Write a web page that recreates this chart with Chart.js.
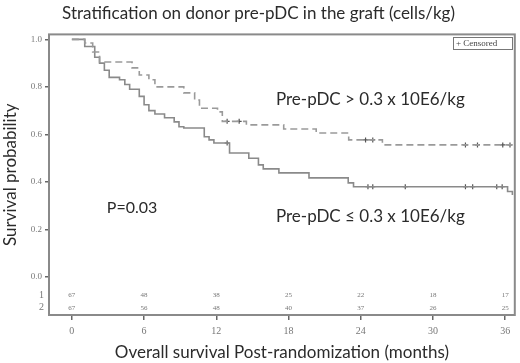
<!DOCTYPE html>
<html>
<head>
<meta charset="utf-8">
<script src="https://cdn.jsdelivr.net/npm/chart.js@4"></script>
<style>
  html, body { margin: 0; padding: 0; background: #fff; }
  #wrap { width: 520px; height: 363px; }
</style>
</head>
<body>
<div id="wrap"><canvas id="chartKM" width="520" height="363"></canvas></div>
<script>
// Curva discontinua: Pre-pDC > 0.3 x 10E6/kg
const mesesAlto = [0, 1.07, 1.73, 2.3, 5.0, 5.6, 6.4, 6.9, 9.3, 10.2, 10.6, 12.1, 12.5, 14.5, 17.6, 20.3, 23.0, 25.8, 36.6];
const survAlto  = [1.0, 0.985, 0.947, 0.905, 0.88, 0.85, 0.83, 0.80, 0.775, 0.745, 0.71, 0.695, 0.655, 0.64, 0.623, 0.606, 0.577, 0.556, 0.556];
const censMesesAlto = [12.9, 13.9, 24.4, 25.0, 32.7, 33.7, 35.8, 36.4];
const censSurvAlto  = [0.655, 0.655, 0.577, 0.577, 0.556, 0.556, 0.556, 0.556];

// Curva continua: Pre-pDC <= 0.3 x 10E6/kg
const mesesBajo = [0, 1.07, 1.9, 2.3, 2.7, 3.1, 3.96, 4.4, 4.8, 5.6, 6.0, 6.4, 6.9, 7.7, 8.5, 8.9, 9.3, 11.0, 11.4, 11.8, 13.1, 14.7, 15.5, 15.9, 17.2, 19.7, 22.96, 23.4, 36.2, 36.6];
const survBajo  = [1.0, 0.97, 0.925, 0.90, 0.87, 0.84, 0.83, 0.81, 0.79, 0.76, 0.725, 0.70, 0.686, 0.67, 0.653, 0.632, 0.627, 0.59, 0.577, 0.564, 0.522, 0.50, 0.472, 0.455, 0.438, 0.417, 0.396, 0.38, 0.36, 0.345];
const censMesesBajo = [12.9, 24.6, 25.0, 27.7, 32.7, 33.3, 35.3, 35.75];
const censSurvBajo  = [0.564, 0.38, 0.38, 0.38, 0.38, 0.38, 0.38, 0.38];

// Tabla de pacientes en riesgo
const mesesTabla = [0, 6, 12, 18, 24, 30, 36];
const enRiesgo1 = [67, 48, 38, 25, 22, 18, 17];
const enRiesgo2 = [67, 56, 48, 40, 37, 26, 25];

const ticksX = [0, 6, 12, 18, 24, 30, 36];
const ticksY = [0, 0.2, 0.4, 0.6, 0.8, 1.0];

const aPuntos = (xs, ys) => xs.map((x, i) => ({ x: x, y: ys[i] }));

// Plugin para marco, textos y tabla de riesgo
const extras = {
    id: 'extras',
    afterDraw(chart) {
        const ctx = chart.ctx;
        const a = chart.chartArea;
        const sx = chart.scales.x, sy = chart.scales.y;
        ctx.save();

        // marco
        ctx.strokeStyle = '#8a8a8a';
        ctx.lineWidth = 2;
        ctx.strokeRect(a.left, a.top, a.right - a.left, a.bottom - a.top);

        // anotaciones
        ctx.fillStyle = '#2b2b2b';
        ctx.font = '17px Lato';
        ctx.textAlign = 'center';
        ctx.textBaseline = 'middle';
        ctx.fillText('Pre-pDC > 0.3 x 10E6/kg', sx.getPixelForValue(24.8), sy.getPixelForValue(0.745));
        ctx.fillText('Pre-pDC \u2264 0.3 x 10E6/kg', sx.getPixelForValue(24.8), sy.getPixelForValue(0.253));
        ctx.font = '16px Lato';
        ctx.fillText('P=0.03', sx.getPixelForValue(5.0), sy.getPixelForValue(0.29));

        // tabla de riesgo
        ctx.fillStyle = '#777';
        ctx.font = '7px "Liberation Serif"';
        const y1 = sy.getPixelForValue(-0.076), y2 = sy.getPixelForValue(-0.13);
        mesesTabla.forEach((m, i) => {
            ctx.fillText(String(enRiesgo1[i]), sx.getPixelForValue(m), y1);
            ctx.fillText(String(enRiesgo2[i]), sx.getPixelForValue(m), y2);
        });
        ctx.font = '10px "Liberation Serif"';
        ctx.textAlign = 'right';
        ctx.fillText('1', a.left - 5, y1);
        ctx.fillText('2', a.left - 5, y2);

        // leyenda Censored
        ctx.strokeStyle = '#777';
        ctx.lineWidth = 1;
        ctx.strokeRect(453.5, 37.5, 59, 12);
        ctx.fillStyle = '#444';
        ctx.font = '9px "Liberation Serif"';
        ctx.textAlign = 'left';
        ctx.fillText('+ Censored', 456, 44);

        ctx.restore();
    }
};

new Chart(document.getElementById('chartKM').getContext('2d'), {
    type: 'line',
    data: {
        datasets: [
            {
                label: 'Pre-pDC > 0.3',
                data: aPuntos(mesesAlto, survAlto),
                stepped: true,
                borderColor: '#9a9a9a',
                borderWidth: 1.6,
                borderDash: [7, 4],
                pointRadius: 0,
                fill: false
            },
            {
                label: 'Pre-pDC <= 0.3',
                data: aPuntos(mesesBajo, survBajo),
                stepped: true,
                borderColor: '#8a8a8a',
                borderWidth: 1.6,
                pointRadius: 0,
                fill: false
            },
            {
                label: 'Censored alto',
                data: aPuntos(censMesesAlto, censSurvAlto),
                showLine: false,
                pointStyle: 'cross',
                pointRadius: 2.5,
                borderColor: '#555',
                borderWidth: 1.2
            },
            {
                label: 'Censored bajo',
                data: aPuntos(censMesesBajo, censSurvBajo),
                showLine: false,
                pointStyle: 'cross',
                pointRadius: 2.5,
                borderColor: '#555',
                borderWidth: 1.2
            }
        ]
    },
    options: {
        responsive: false,
        animation: false,
        layout: { padding: { top: 0, right: 3, left: 0, bottom: 0 } },
        plugins: {
            legend: { display: false },
            tooltip: { enabled: false },
            title: {
                display: true,
                text: 'Stratification on donor pre-pDC in the graft (cells/kg)',
                color: '#2b2b2b',
                font: { family: 'Lato', size: 17, weight: 'normal' },
                padding: { top: 3, bottom: 11 }
            }
        },
        scales: {
            x: {
                type: 'linear',
                min: -1.9,
                max: 36.8,
                afterBuildTicks: s => { s.ticks = ticksX.map(v => ({ value: v })); },
                afterFit: s => { s.height = 48; },
                grid: { drawOnChartArea: false, tickLength: 5, color: '#666', lineWidth: 1.5 },
                border: { display: false },
                ticks: { color: '#777', font: { family: 'Liberation Serif', size: 10 }, padding: 5, maxRotation: 0 },
                title: {
                    display: true,
                    text: 'Overall survival Post-randomization (months)',
                    color: '#2b2b2b',
                    font: { family: 'Lato', size: 17 },
                    padding: { top: 0, bottom: 0 }
                }
            },
            y: {
                min: -0.16,
                max: 1.021,
                afterBuildTicks: s => { s.ticks = ticksY.map(v => ({ value: v })); },
                afterFit: s => { s.width = 49; },
                grid: { drawOnChartArea: false, tickLength: 4, color: '#666', lineWidth: 1.5 },
                border: { display: false },
                ticks: { color: '#777', font: { family: 'Liberation Serif', size: 9 }, padding: 3, callback: v => v.toFixed(1) },
                title: {
                    display: true,
                    text: 'Survival probability',
                    color: '#2b2b2b',
                    font: { family: 'Lato', size: 17 },
                    padding: { top: 0, bottom: 0 }
                }
            }
        }
    },
    plugins: [extras]
});
</script>
</body>
</html>
